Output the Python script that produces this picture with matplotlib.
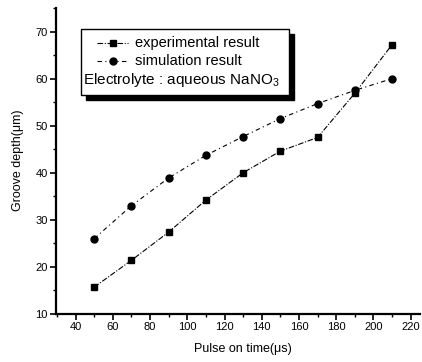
import matplotlib
matplotlib.use('Agg')
import matplotlib.pyplot as plt
from matplotlib.lines import Line2D
from matplotlib.patches import Rectangle, Shadow

plt.rcParams['font.family'] = ['Liberation Sans', 'DejaVu Sans']
plt.rcParams['mathtext.fontset'] = 'custom'
plt.rcParams['mathtext.rm'] = 'Liberation Sans'

# 数据
pulse_time = [50, 70, 90, 110, 130, 150, 170, 190, 210]
experimental = [15.7, 21.4, 27.4, 34.2, 40.0, 44.6, 47.5, 56.9, 67.2]
simulation = [26.0, 33.0, 38.9, 43.7, 47.7, 51.5, 54.7, 57.5, 60.0]
x_ticks = [40, 60, 80, 100, 120, 140, 160, 180, 200, 220]
y_ticks = [10, 20, 30, 40, 50, 60, 70]

W, H = 422, 362
fig = plt.figure(figsize=(W / 100, H / 100), dpi=100)
ax = fig.add_axes([56 / W, 1 - 314 / H, 364 / W, 306 / H])

exp_style = dict(color='black', lw=0.8, ls=(0, (5, 1.5, 1, 1.5)), marker='s', ms=5)
sim_style = dict(color='black', lw=0.8, ls=(0, (4, 3, 1, 3)), marker='o', ms=5)

ax.plot(pulse_time, experimental, **exp_style)
ax.plot(pulse_time, simulation, **sim_style)

ax.set_xlim(29.5, 225)
ax.set_ylim(10, 75)
ax.set_xticks(x_ticks)
ax.set_yticks(y_ticks)
ax.set_xticks(range(30, 226, 10), minor=True)
ax.set_yticks(range(10, 76, 5), minor=True)
ax.tick_params(which='major', direction='out', length=4, width=1.2, labelsize=8, pad=2)
ax.tick_params(which='minor', direction='out', length=2.5, width=1)

for side in ['top', 'right']:
    ax.spines[side].set_visible(False)
for side in ['left', 'bottom']:
    ax.spines[side].set_linewidth(1.6)

fig.text(18 / W, 1 - 160 / H, 'Groove depth(μm)', rotation=90, ha='center', va='center', fontsize=9)
fig.text(243 / W, 1 - 349 / H, 'Pulse on time(μs)', ha='center', va='center', fontsize=9)


# 手工绘制图例 (像素坐标 -> figure坐标)
def fx(px):
    return px / W


def fy(py):
    return 1 - py / H


box = Rectangle((fx(81), fy(95)), fx(289) - fx(81), fy(29) - fy(95),
                transform=fig.transFigure, facecolor='white', edgecolor='black', lw=1.0, zorder=5)
shadow = Shadow(box, 3.5 / W, -3.5 / H, color='black', alpha=1, zorder=4.9)
shadow.set_transform(fig.transFigure)
fig.add_artist(shadow)
fig.add_artist(box)

rows = [(43, exp_style, 'experimental result'), (61, sim_style, 'simulation result')]
for py, st, label in rows:
    fig.add_artist(Line2D([fx(97), fx(128)], [fy(py), fy(py)], transform=fig.transFigure,
                          color='black', lw=0.8, ls=st['ls'], zorder=6))
    fig.add_artist(Line2D([fx(113)], [fy(py)], transform=fig.transFigure, color='black',
                          marker=st['marker'], ms=5, zorder=6))
    fig.text(fx(135), fy(py), label, ha='left', va='center', fontsize=10.5, zorder=6)

fig.text(fx(83), fy(80), 'Electrolyte : aqueous NaNO$_3$', ha='left', va='center', fontsize=11, zorder=6)

fig.savefig('out.png', dpi=100)
